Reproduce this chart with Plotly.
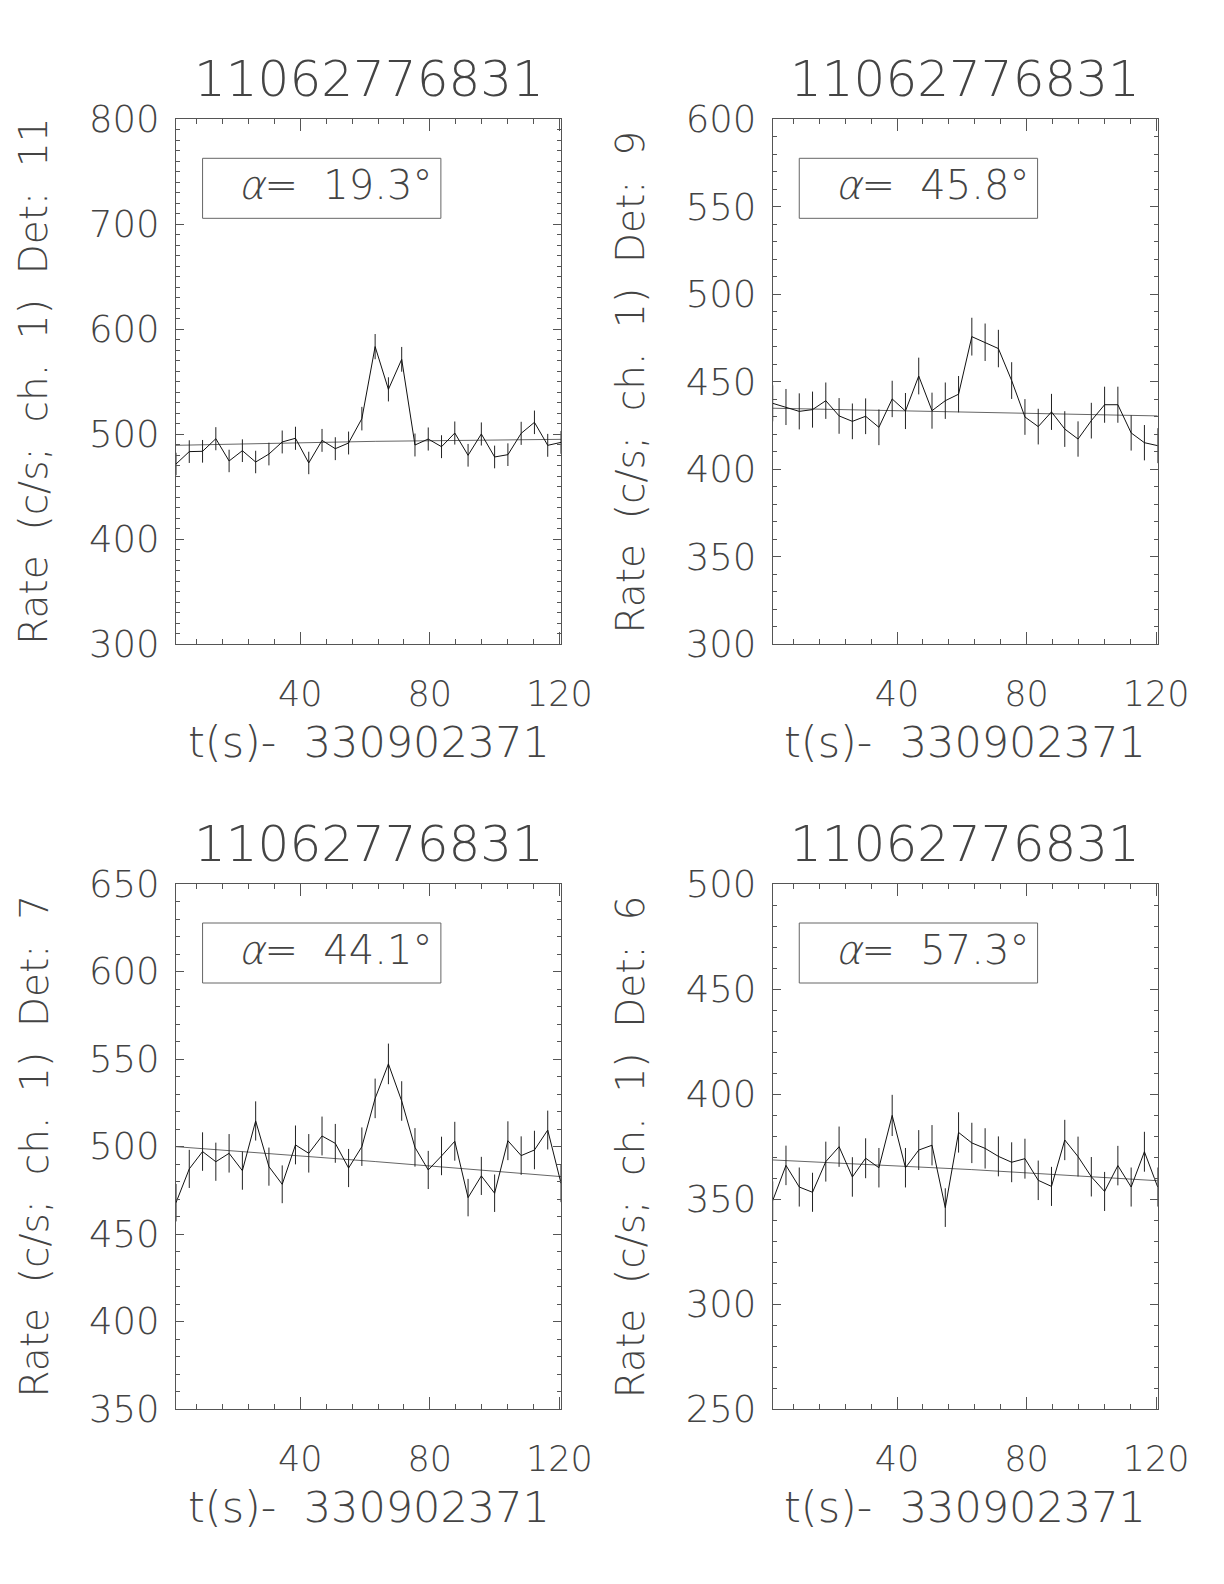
import plotly.graph_objects as go

# time bins (s after 330902371)
t = [1.6, 5.7, 9.8, 13.9, 18.0, 22.1, 26.2, 30.3, 34.4, 38.5,
     42.6, 46.7, 50.8, 54.9, 59.0, 63.1, 67.2, 71.3, 75.4, 79.5,
     83.6, 87.7, 91.8, 95.9, 100.0, 104.1, 108.2, 112.3, 116.4, 120.5]
bg_t = [1.6, 63.1, 120.5]

trigger = "11062776831"
t_label = "t(s)-\u00a0\u00a0330902371"

# Det 11
rate_d11 = [471.7, 483.5, 483.8, 495.8, 474.6, 484.4, 473.6, 481.2, 492.7, 496.2,
            472.7, 494.2, 486.3, 491.7, 514.9, 583.5, 542.8, 571.4, 489.8, 495.5,
            488.2, 501.2, 480.0, 500.3, 478.4, 480.6, 500.9, 511.4, 489.5, 492.3]
err_d11 = [10.7, 10.8, 10.8, 11.0, 10.7, 10.8, 10.7, 10.8, 10.9, 11.0,
           10.7, 10.9, 10.9, 10.9, 11.2, 12.0, 11.5, 11.8, 10.9, 11.0,
           10.9, 11.0, 10.8, 11.0, 10.8, 10.8, 11.0, 11.2, 10.9, 10.9]
bg_d11 = [489.5, 493.3, 495.2]

# Det 9
rate_d9 = [437.7, 435.6, 433.1, 434.1, 439.2, 430.5, 427.4, 430.3, 424.0, 440.2,
           433.3, 453.3, 433.5, 439.2, 442.9, 475.8, 472.6, 469.0, 450.7, 429.9,
           424.4, 432.8, 423.0, 417.3, 427.8, 436.9, 436.9, 420.8, 415.2, 413.5]
err_d9 = [10.3, 10.3, 10.3, 10.3, 10.4, 10.2, 10.2, 10.2, 10.2, 10.4,
          10.3, 10.5, 10.3, 10.4, 10.4, 10.8, 10.7, 10.7, 10.5, 10.2,
          10.2, 10.3, 10.2, 10.1, 10.2, 10.3, 10.3, 10.1, 10.1, 10.0]
bg_d9 = [434.9, 432.6, 430.5]

# Det 7
rate_d7 = [467.9, 487.2, 497.1, 491.3, 496.1, 486.2, 514.6, 488.5, 478.4, 500.9,
           496.1, 506.0, 501.8, 487.7, 499.9, 527.5, 547.2, 526.0, 499.5, 486.6,
           494.6, 503.0, 470.8, 483.2, 473.3, 503.3, 494.8, 498.0, 509.4, 479.0]
err_d7 = [10.7, 10.9, 11.0, 10.9, 11.0, 10.9, 11.2, 10.9, 10.8, 11.1,
          11.0, 11.1, 11.1, 10.9, 11.0, 11.3, 11.6, 11.3, 11.0, 10.9,
          11.0, 11.1, 10.7, 10.9, 10.7, 11.1, 11.0, 11.0, 11.1, 10.8]
bg_d7 = [499.9, 491.4, 482.8]

# Det 6
rate_d6 = [349.2, 366.0, 355.7, 353.2, 367.8, 374.9, 360.5, 369.4, 364.9, 389.8,
           364.9, 373.3, 375.6, 345.9, 381.7, 376.7, 374.1, 370.3, 367.5, 369.2,
           358.9, 356.0, 378.1, 370.2, 360.6, 353.6, 365.9, 355.7, 372.5, 355.7]
err_d6 = [9.2, 9.4, 9.3, 9.3, 9.5, 9.6, 9.4, 9.5, 9.4, 9.8,
          9.4, 9.5, 9.6, 9.2, 9.6, 9.6, 9.6, 9.5, 9.5, 9.5,
          9.4, 9.3, 9.6, 9.5, 9.4, 9.3, 9.4, 9.3, 9.5, 9.3]
bg_d6 = [368.6, 364.0, 358.7]

panels = [
    dict(rate=rate_d11, err=err_d11, bg=bg_d11, det="11", alpha="19.3", yr=[300, 800], dt=100),
    dict(rate=rate_d9, err=err_d9, bg=bg_d9, det="9", alpha="45.8", yr=[300, 600], dt=50),
    dict(rate=rate_d7, err=err_d7, bg=bg_d7, det="7", alpha="44.1", yr=[350, 650], dt=50),
    dict(rate=rate_d6, err=err_d6, bg=bg_d6, det="6", alpha="57.3", yr=[250, 500], dt=50),
]

W, H = 1224, 1584
OFF = 8  # page body margin offset
x_dom = [[(176 - OFF) / W, (561 - OFF) / W], [(772.7 - OFF) / W, (1157.7 - OFF) / W]]
y_dom = [[1 - (644.3 - OFF) / H, 1 - (119.3 - OFF) / H], [1 - (1409 - OFF) / H, 1 - (884 - OFF) / H]]

FONT = "DejaVu Sans ExtraLight, DejaVu Sans Light, DejaVu Sans"
TXT = "#444444"
AX = "#555555"
NB = "\u00a0\u00a0"

fig = go.Figure()
layout = dict(
    width=W, height=H, margin=dict(l=0, r=0, t=0, b=0, autoexpand=False),
    paper_bgcolor="white", plot_bgcolor="white", showlegend=False,
    font=dict(family=FONT, color=TXT),
)
annotations, shapes = [], []

for i, p in enumerate(panels):
    row, col = divmod(i, 2)
    n = "" if i == 0 else str(i + 1)
    xa, ya = "x" + n, "y" + n
    xd, yd = x_dom[col], y_dom[row]

    # background fit
    fig.add_trace(go.Scatter(x=bg_t, y=p["bg"], mode="lines", xaxis=xa, yaxis=ya,
                             line=dict(color="#666666", width=1), hoverinfo="skip"))
    # light curve with error bars
    fig.add_trace(go.Scatter(x=t, y=p["rate"], mode="lines", xaxis=xa, yaxis=ya,
                             line=dict(color="#111111", width=1),
                             error_y=dict(type="data", array=p["err"], width=0,
                                          thickness=1, color="#222222"),
                             hoverinfo="skip"))

    layout["xaxis" + n] = dict(
        domain=xd, anchor=ya, range=[t[0], t[-1]], tickvals=[40, 80, 120],
        ticks="inside", ticklen=12, tickcolor=AX, showline=True, linecolor=AX,
        linewidth=1, mirror="ticks", showgrid=False, zeroline=False, automargin=False,
        minor=dict(tick0=0, dtick=8, ticks="inside", ticklen=5, tickcolor=AX),
        tickfont=dict(size=35, family=FONT, color=TXT), ticklabelstandoff=19,
    )
    layout["yaxis" + n] = dict(
        domain=yd, anchor=xa, range=p["yr"], tick0=0, dtick=p["dt"],
        ticks="inside", ticklen=8, tickcolor=AX, showline=True, linecolor=AX,
        linewidth=1, mirror="ticks", showgrid=False, zeroline=False, automargin=False,
        minor=dict(tick0=0, dtick=10, ticks="inside", ticklen=4, tickcolor=AX),
        tickfont=dict(size=37, family=FONT, color=TXT), ticklabelstandoff=8,
    )

    xc = (xd[0] + xd[1]) / 2
    yc = (yd[0] + yd[1]) / 2
    top_px = H * (1 - yd[1])
    bot_px = H * (1 - yd[0])
    left_px = xd[0] * W

    # panel title
    annotations.append(dict(text=trigger, xref="paper", yref="paper", x=xc, y=1 - (top_px - 40) / H,
                            showarrow=False, xanchor="center", yanchor="middle",
                            font=dict(size=50, family=FONT, color=TXT)))
    # x title
    annotations.append(dict(text=t_label, xref="paper", yref="paper", x=xc, y=1 - (bot_px + 98) / H,
                            showarrow=False, xanchor="center", yanchor="middle",
                            font=dict(size=43, family=FONT, color=TXT)))
    # y title
    annotations.append(dict(text=NB.join(["Rate", "(c/s;", "ch.", "1)", "Det:", p["det"]]),
                            xref="paper", yref="paper",
                            x=(left_px - 142) / W, y=yc, textangle=-90,
                            showarrow=False, xanchor="center", yanchor="middle",
                            font=dict(size=39, family=FONT, color=TXT)))
    # alpha box
    shapes.append(dict(type="rect", xref=xa + " domain", yref=ya + " domain",
                       x0=0.069, x1=0.688, y0=0.8114, y1=0.9257,
                       line=dict(color="#666666", width=1)))
    annotations.append(dict(text="<i>α</i>=" + NB + p["alpha"] + "°", xref=xa + " domain", yref=ya + " domain",
                            x=0.413, y=0.874, showarrow=False, xanchor="center", yanchor="middle",
                            font=dict(size=40, family=FONT, color=TXT)))

layout["annotations"] = annotations
layout["shapes"] = shapes
fig.update_layout(**layout)
fig.write_html("out.html")
